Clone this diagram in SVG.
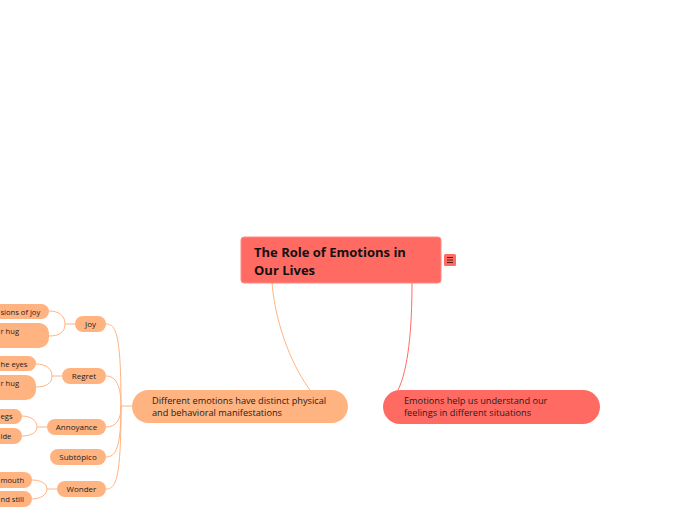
<svg xmlns="http://www.w3.org/2000/svg" width="697" height="520" viewBox="0 0 697 520">
<style>
.t{font-family:"Open Sans","Noto Sans","DejaVu Sans",sans-serif;fill:#222}
.root{font-size:13px;font-weight:bold;fill:#111}
.main{font-size:9.2px}
.sub{font-size:8px;text-anchor:middle}
.leaf{font-size:7.6px}
.org{fill:#ffb380}
.red{fill:#ff6b63}
.lo{fill:none;stroke:#ffb380;stroke-width:1}
.lr{fill:none;stroke:#ff6b63;stroke-width:1}
</style>
<rect width="697" height="520" fill="#fff"/>
<g id="connectors">
<path class="lo" d="M272,283 C276,330 295,370 310,390"/>
<path class="lr" d="M412,283 C412,330 408,370 398,390"/>
<path class="lo" d="M132,406 L121,406"/>
<path class="lo" d="M106,324 C116,324 121,334 121,406"/>
<path class="lo" d="M106,376 C116,376 121,386 121,406"/>
<path class="lo" d="M106,427 C116,427 121,420 121,406"/>
<path class="lo" d="M106,457 C116,457 121,447 121,406"/>
<path class="lo" d="M106,489 C116,489 121,479 121,406"/>
<path class="lo" d="M75,324 L65,324 M65,324 C65,315 58,311 49,311 M65,324 C65,333 58,336 49,336"/>
<path class="lo" d="M62,376 L52,376 M52,376 C52,368 45,364 36,364 M52,376 C52,384 45,387 36,387"/>
<path class="lo" d="M47,427 L37,427 M37,427 C37,420 30,416 22,416 M37,427 C37,433 30,436 22,436"/>
<path class="lo" d="M57,489 L47,489 M47,489 C47,483 40,480 32,480 M47,489 C47,495 40,499 32,499"/>
</g>
<g id="root">
<rect x="241" y="237" width="200" height="46" rx="3" class="red" stroke="#ff8c86" stroke-width="1"/>
<text class="t root" x="254" y="257">The Role of Emotions in</text>
<text class="t root" x="254" y="275">Our Lives</text>
<rect x="444" y="254" width="12" height="12" rx="1.5" class="red"/>
<path d="M447,257.5 h6 M447,260 h6 M447,262.5 h6" stroke="#5a1a18" stroke-width="1"/>
</g>
<g id="main-left">
<rect x="132" y="390" width="216" height="33" rx="16.5" class="org"/>
<text class="t main" x="152" y="404">Different emotions have distinct physical</text>
<text class="t main" x="152" y="416">and behavioral manifestations</text>
</g>
<g id="main-right">
<rect x="383" y="390" width="217" height="34" rx="17" class="red"/>
<text class="t main" x="404" y="404">Emotions help us understand our</text>
<text class="t main" x="404" y="416">feelings in different situations</text>
</g>
<g id="joy">
<rect x="75" y="316" width="31" height="16" rx="8" class="org"/>
<text class="t sub" x="90.5" y="327">Joy</text>
</g>
<g id="regret">
<rect x="62" y="368" width="44" height="16" rx="8" class="org"/>
<text class="t sub" x="84" y="379">Regret</text>
</g>
<g id="annoyance">
<rect x="47" y="419" width="59" height="16" rx="8" class="org"/>
<text class="t sub" x="76.5" y="430">Annoyance</text>
</g>
<g id="subtopico">
<rect x="50" y="449" width="56" height="16" rx="8" class="org"/>
<text class="t sub" x="78" y="460">Subtópico</text>
</g>
<g id="wonder">
<rect x="57" y="481" width="49" height="16" rx="8" class="org"/>
<text class="t sub" x="81.5" y="492">Wonder</text>
</g>
<g id="leaf-joy-1">
<rect x="-80" y="304" width="129" height="15" rx="7.5" class="org"/>
<text class="t leaf" x="0.5" y="315">sions of joy</text>
</g>
<g id="leaf-joy-2">
<rect x="-80" y="323" width="129" height="25" rx="10" class="org"/>
<text class="t leaf" x="0.5" y="334">r hug</text>
</g>
<g id="leaf-regret-1">
<rect x="-80" y="356" width="116" height="15" rx="7.5" class="org"/>
<text class="t leaf" x="0.5" y="367">he eyes</text>
</g>
<g id="leaf-regret-2">
<rect x="-80" y="375" width="116" height="25" rx="10" class="org"/>
<text class="t leaf" x="0.5" y="386">r hug</text>
</g>
<g id="leaf-annoyance-1">
<rect x="-80" y="409" width="102" height="15" rx="7.5" class="org"/>
<text class="t leaf" x="0.5" y="419">egs</text>
</g>
<g id="leaf-annoyance-2">
<rect x="-80" y="428" width="102" height="16" rx="8" class="org"/>
<text class="t leaf" x="0.5" y="439">ide</text>
</g>
<g id="leaf-wonder-1">
<rect x="-80" y="472" width="112" height="16" rx="8" class="org"/>
<text class="t leaf" x="0.5" y="483">mouth</text>
</g>
<g id="leaf-wonder-2">
<rect x="-80" y="491" width="112" height="16" rx="8" class="org"/>
<text class="t leaf" x="0.5" y="502">nd still</text>
</g>
</svg>
